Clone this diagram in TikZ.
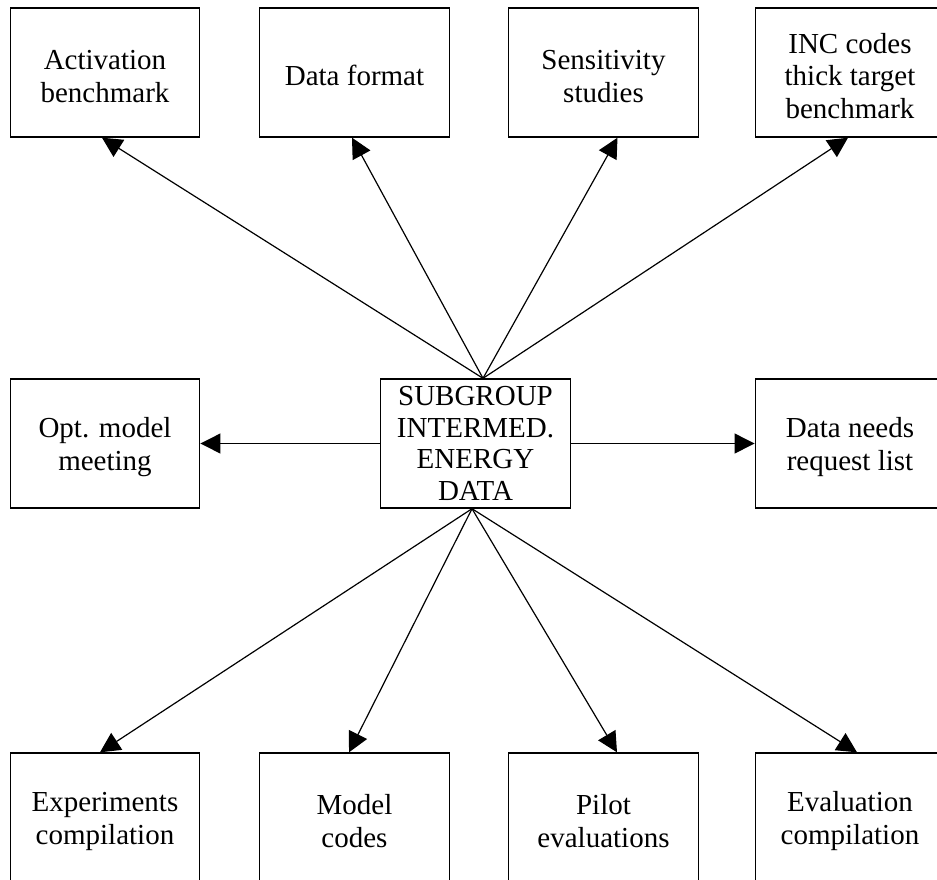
\documentclass[tikz,border=0pt]{standalone}
\usepackage{fontspec}
\setmainfont{Liberation Serif}
\usetikzlibrary{arrows.meta,calc}
\newcommand{\lowerstrut}{\rule{0pt}{27pt}}
\begin{document}
\begin{tikzpicture}[x=1pt,y=-1pt,
  boxnode/.style={draw=black,line width=1.4pt,rectangle,minimum width=189.5pt,minimum height=129pt,inner sep=0pt,align=center,font=\fontsize{29}{32.5}\selectfont},
  link/.style={line width=1.2pt,-{Triangle[length=20pt,width=20pt]}}]
\useasboundingbox (0,0) rectangle (937,879);
\clip (0,0) rectangle (937,879);
% top row
\node[boxnode] (t1) at (105,72.5) {\lowerstrut Activation\\benchmark};
\node[boxnode] (t2) at (354.5,72.5) {\lowerstrut Data format};
\node[boxnode] (t3) at (603.5,72.5) {\lowerstrut Sensitivity\\studies};
\node[boxnode] (t4) at (850,72.5) {\lowerstrut INC codes\\thick target\\benchmark};
% middle row
\node[boxnode] (m1) at (105,443.5) {\lowerstrut Opt. model\\meeting};
\node[boxnode,font=\fontsize{29}{31.7}\selectfont] (c) at (475.5,443.5) {SUBGROUP\\INTERMED.\\ENERGY\\DATA};
\node[boxnode] (m2) at (850,443.5) {\lowerstrut Data needs\\request list};
% bottom row
\node[boxnode] (b1) at (105,817.5) {\lowerstrut Experiments\\compilation};
\node[boxnode] (b2) at (354.5,817.5) {\lowerstrut Model\\codes};
\node[boxnode] (b3) at (603.5,817.5) {\lowerstrut Pilot\\evaluations};
\node[boxnode] (b4) at (850,817.5) {\lowerstrut Evaluation\\compilation};
% anchor points
\coordinate (ctop) at ($(c.north)+(7.5,0)$);
\coordinate (cbot) at ($(c.south)+(-3.5,0)$);
\coordinate (e1) at ($(t1.south)+(-3,0)$);
\coordinate (e2) at ($(t2.south)+(-2.5,0)$);
\coordinate (e3) at ($(t3.south)+(14,0)$);
\coordinate (e4) at ($(t4.south)+(-2,0)$);
\coordinate (f1) at ($(b1.north)+(-5,0)$);
\coordinate (f2) at ($(b2.north)+(-5.5,0)$);
\coordinate (f3) at ($(b3.north)+(13.5,0)$);
\coordinate (f4) at ($(b4.north)+(7,0)$);
% connectors
\draw[link] (ctop) -- (e1);
\draw[link] (ctop) -- (e2);
\draw[link] (ctop) -- (e3);
\draw[link] (ctop) -- (e4);
\draw[link] (c.west) -- (m1.east);
\draw[link] (c.east) -- (m2.west);
\draw[link] (cbot) -- (f1);
\draw[link] (cbot) -- (f2);
\draw[link] (cbot) -- (f3);
\draw[link] (cbot) -- (f4);
\end{tikzpicture}
\end{document}
